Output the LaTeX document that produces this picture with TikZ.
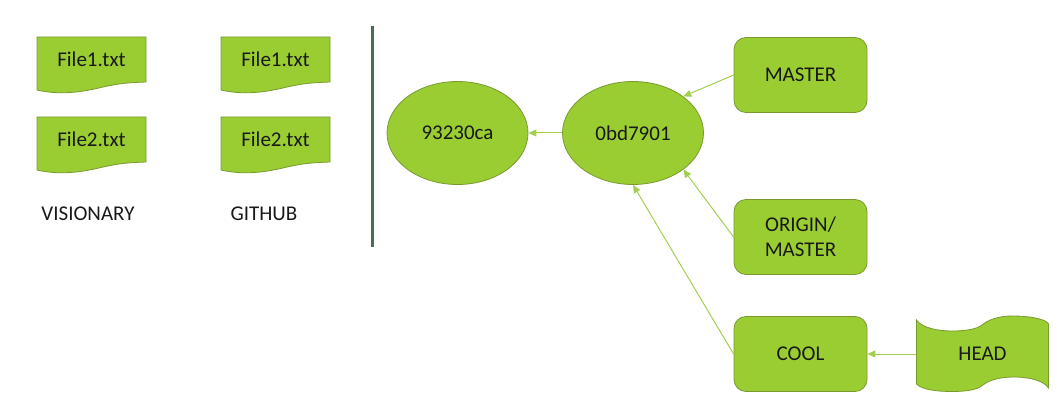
\documentclass[tikz,border=0pt]{standalone}
\usepackage{fontspec}
\setmainfont{Carlito}
\usetikzlibrary{arrows.meta,shapes.geometric}

\definecolor{leaf}{RGB}{154,205,50}
\definecolor{leafedge}{RGB}{122,154,48}
\definecolor{leafline}{RGB}{163,207,80}
\definecolor{divider}{RGB}{76,107,85}

\tikzset{
    every node/.style={font=\fontsize{21}{25}\selectfont, text=black!90, align=center, inner sep=0pt},
    commit/.style={ellipse, draw=leafedge, fill=leaf, line width=0.8pt, minimum width=141pt, minimum height=103pt},
    branch/.style={rectangle, rounded corners=12pt, draw=leafedge, fill=leaf, line width=0.8pt, minimum width=133pt, minimum height=75pt},
    sheet/.style={draw=leafedge, fill=leaf, line width=0.8pt},
    link/.style={draw=leafline, line width=1pt, -{Triangle[length=8pt,width=7pt]}}
}

\newcommand{\filenote}[4]{
    \begin{scope}[shift={(#2,#3)}]
        \draw[sheet] (0,0) -- (109,0) -- (109,45)
            .. controls (85,46) and (80,47) .. (66,50)
            .. controls (50,54) and (25,59) .. (0,53) -- cycle;
        \node (#1) at (54.5,22.5) {#4};
    \end{scope}
}

\begin{document}
\begin{tikzpicture}[x=1pt,y=-1pt]
    \useasboundingbox (0,0) rectangle (1057,417);

    \filenote{visionaryone}{37}{37}{File1.txt}
    \filenote{visionarytwo}{37}{117}{File2.txt}
    \filenote{githubone}{221}{37}{File1.txt}
    \filenote{githubtwo}{221}{117}{File2.txt}
    \node (visionary) at (88,214) {VISIONARY};
    \node (github) at (264,214) {GITHUB};

    \coordinate (dividertop) at (372,26);
    \coordinate (dividerbottom) at (372,247);
    \draw[divider, line width=3pt] (dividertop) -- (dividerbottom);

    \node[commit] (oldcommit) at (457.5,133) {93230ca};
    \node[commit] (newcommit) at (633,133) {0bd7901};
    \node[branch] (master) at (800.5,75) {MASTER};
    \node[branch] (origin) at (800.5,237) {ORIGIN/\\MASTER};
    \node[branch] (cool) at (800.5,354) {COOL};

    \draw[sheet] (916.5,320)
        .. controls (922,328) and (938,331) .. (952,331)
        .. controls (966,331) and (977,329) .. (982,325)
        .. controls (988,320) and (998,316) .. (1012,316)
        .. controls (1030,316) and (1046,319) .. (1048.5,324)
        -- (1048.5,388)
        .. controls (1044,381) and (1030,377) .. (1014,377)
        .. controls (1000,377) and (989,380) .. (983,385)
        .. controls (977,390) and (966,391.5) .. (952,391.5)
        .. controls (938,391.5) and (922,390) .. (916.5,384) -- cycle;
    \node[minimum width=132pt, minimum height=75pt] (head) at (982.5,354) {HEAD};

    \draw[link] (newcommit.west) -- (oldcommit.east);
    \draw[link] (master.west) -- (newcommit.36);
    \draw[link] (origin.west) -- (newcommit.-36);
    \draw[link] (cool.west) -- (newcommit.south);
    \draw[link] (head.west) -- (cool.east);
\end{tikzpicture}
\end{document}
